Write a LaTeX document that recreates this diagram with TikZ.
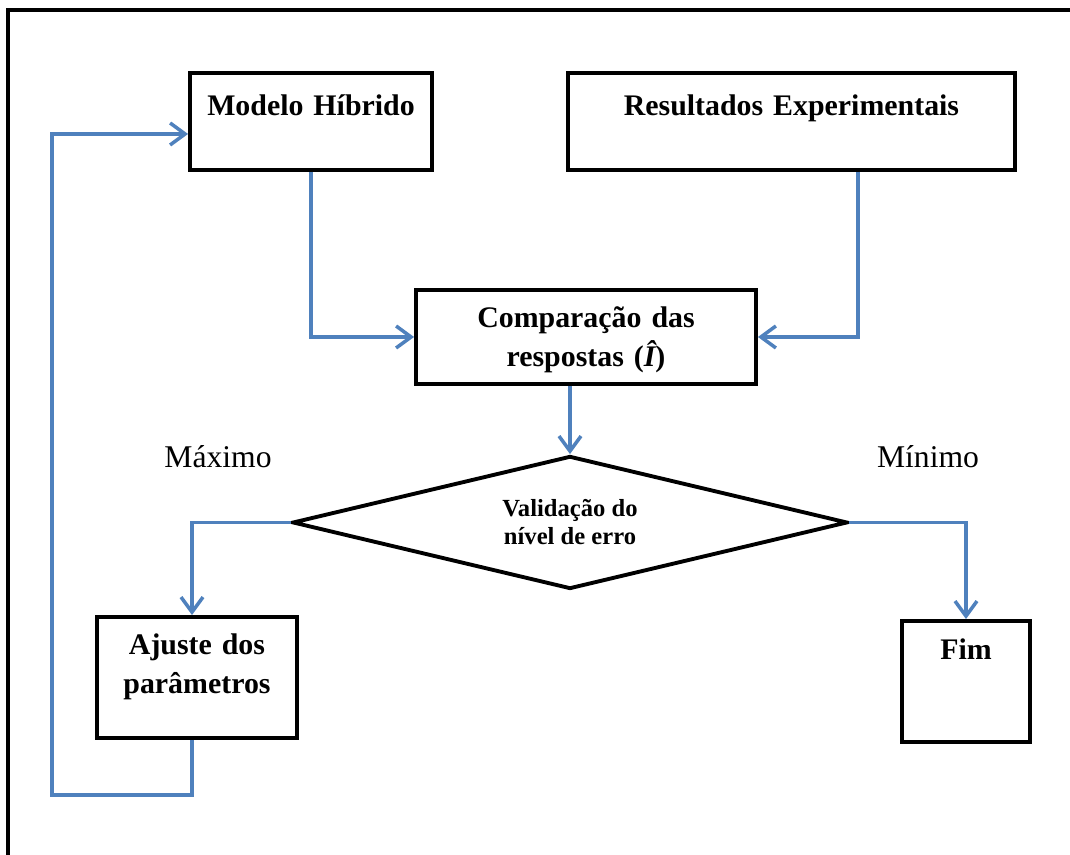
\documentclass[tikz,border=0pt]{standalone}
\usepackage{fontspec}
\setmainfont{Liberation Serif}
\usetikzlibrary{positioning,shapes.geometric,arrows.meta}
\definecolor{flowblue}{HTML}{4F81BD}

\tikzset{
  box/.style={draw, line width=1.1pt, inner sep=0pt, align=center,
    font=\fontsize{8.5}{11}\selectfont\bfseries},
  decision/.style={diamond, aspect=4.17, draw, line width=1.1pt, inner sep=0pt,
    minimum width=5.55cm, minimum height=1.33cm, align=center,
    font=\fontsize{7}{8}\selectfont\bfseries},
  flow/.style={draw=flowblue, line width=1pt,
    -{Straight Barb[length=0.15cm, width=0.22cm]}},
  tag/.style={font=\fontsize{9}{11}\selectfont}
}

\begin{document}
\begin{tikzpicture}[on grid]
    \useasboundingbox (0,0) rectangle (10.7,8.55);

    % frame
    \draw [line width=1.1pt] (0.08,0) |- (10.7,8.45);

    \node [decision] (val) at (5.70,3.325) {Validação do\\nível de erro};

    % top row
    \node [box, text width=2.42cm, text height=0.43cm, text depth=0.54cm,
        above left=4.01cm and 2.59cm of val] (mh) {Modelo Híbrido};
    \node [box, text width=4.47cm, text height=0.43cm, text depth=0.54cm,
        above right=4.01cm and 2.215cm of val] (re) {Resultados Experimentais};

    \node [box, text width=3.40cm, text height=0.38cm, text depth=0.56cm,
        above right=1.855cm and 0.16cm of val] (cmp) {Comparação das\\respostas ({\itshape Î})};

    % bottom row
    \node [box, text width=2.00cm, text height=0.38cm, text depth=0.83cm,
        below left=1.55cm and 3.73cm of val] (aj) {Ajuste dos\\parâmetros};
    \node [box, text width=1.28cm, text height=0.39cm, text depth=0.82cm,
        below right=1.59cm and 3.96cm of val] (fim) {Fim};

    \node [tag, above left=0.655cm and 3.52cm of val] (lmax) {Máximo};
    \node [tag, above right=0.655cm and 3.58cm of val] (lmin) {Mínimo};

    \draw [flow] (mh.south) |- (cmp.west);
    \draw [flow] ([xshift=0.665cm]re.south) |- (cmp.east);
    \draw [flow] (val.north |- cmp.south) -- (val.north);
    \draw [flow] (val.west) -| ([xshift=-0.05cm]aj.north);
    \draw [flow] (val.east) -| (fim.north);

    % back to the model
    \coordinate (back) at (0.52,0.60);
    \draw [flow] ([xshift=-0.05cm]aj.south) |- (back) |- ([yshift=-0.125cm]mh.west);
\end{tikzpicture}
\end{document}
